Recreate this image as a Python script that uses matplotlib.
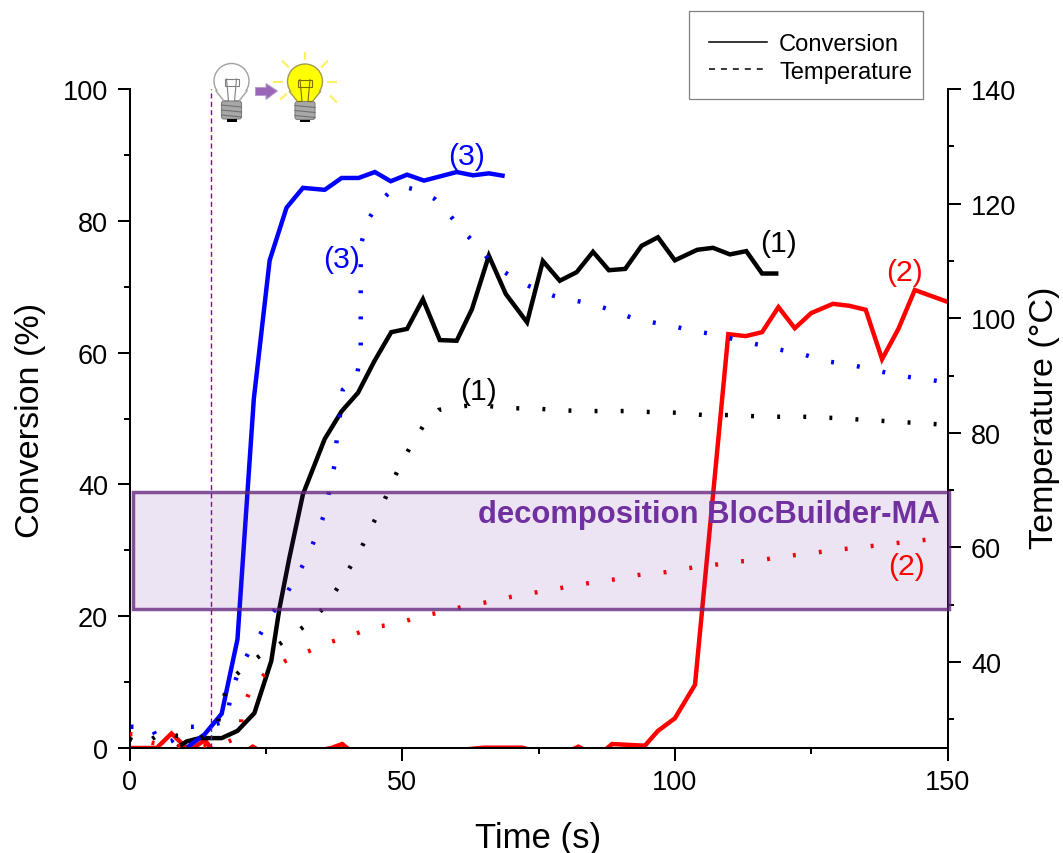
import matplotlib
matplotlib.use("Agg")
import matplotlib.pyplot as plt
from matplotlib.lines import Line2D
from matplotlib.patches import Rectangle, Circle, Polygon, FancyBboxPatch
from matplotlib.ticker import MultipleLocator

plt.rcParams['font.family'] = ['Liberation Sans', 'DejaVu Sans']
plt.rcParams['lines.scale_dashes'] = False

# Conversion (%) ---------------------------------------------------------
t_conv1 = [8.8,10.5,12.9,16.9,19.8,22.9,26.0,27.5,29.3,31.8,35.8,38.9,41.9,44.9,48.0,50.9,53.8,56.9,60.0,62.8,65.9,69.0,72.9,75.8,78.9,82.0,85.0,87.9,90.9,93.9,96.9,100.0,104.1,107.0,110.1,113.1,116.0,119.0]
conv1 = [0.1,1.0,1.5,1.5,2.6,5.3,13.2,21.2,28.8,38.5,46.9,51.1,53.9,58.7,63.1,63.6,68.1,61.9,61.8,66.6,74.7,68.9,64.6,73.9,70.9,72.2,75.3,72.5,72.7,76.2,77.5,74.0,75.6,75.9,74.9,75.4,72.0,72.0]

t_conv2 = [0,5.0,7.7,10.1,11.2,13.8,15.2,16.5,21.5,22.6,23.8,34.5,37.0,39.0,40.5,60.5,65.0,72.0,73.5,81.0,82.3,83.5,87.2,88.5,94.5,96.9,100.0,103.7,109.8,113.0,116.0,119.0,122.0,125.0,129.0,132.0,135.0,138.0,141.0,144.0,150.0]
conv2 = [0.0,0.0,2.2,0.3,-0.3,1.2,-0.3,-0.4,-0.4,0.2,-0.4,-0.4,0.0,0.6,-0.4,-0.3,0.05,0.05,-0.3,-0.3,0.2,-0.3,-0.3,0.6,0.35,2.6,4.5,9.6,62.8,62.5,63.1,66.9,63.7,66.0,67.4,67.1,66.5,59.0,63.6,69.5,67.7]

t_conv3 = [10.6,13.8,16.9,19.8,22.8,25.7,28.8,31.8,35.8,38.9,42.0,45.0,47.9,50.9,54.0,60.0,63.0,65.9,68.8]
conv3 = [0.1,2.1,5.2,16.5,53.0,74.0,82.0,85.0,84.7,86.5,86.5,87.4,86.0,87.0,86.1,87.4,86.9,87.2,86.8]

# Temperature (°C) -------------------------------------------------------
t_temp1 = [0,2.4,6.4,8.8,12.7,16.0,16.9,18.2,20.9,23.9,27.0,29.9,33.4,36.2,38.4,40.6,42.6,44.4,46.3,47.9,49.8,51.8,54.0,56.7,61.7,65.4,70.1,75.1,77.8,82.8,87.2,91.2,96.2,101.0,105.2,110.0,114.6,119.3,123.7,128.9,150.0]
temp1 = [26.6,25.5,28.0,27.1,26.6,28.3,32.7,36.5,39.0,41.1,42.8,44.7,47.2,50.1,53.3,56.8,60.1,63.7,67.2,70.9,74.6,78.1,81.4,84.0,84.7,84.7,84.3,84.2,84.0,83.8,83.8,83.8,83.6,83.5,83.1,83.1,82.9,82.8,82.8,82.6,81.4]

t_temp2 = [0,2.4,3.5,7.7,16.9,20.2,20.7,22.2,25.0,28.6,32.9,36.9,40.9,44.6,48.8,53.1,57.1,61.7,65.9,70.1,74.2,77.8,81.9,85.6,89.6,93.4,98.4,102.6,106.8,110.9,115.8,120.6,125.0,129.8,134.8,139.2,143.7,147.8,150.0]
temp2 = [27.4,27.4,26.0,25.3,25.5,27.1,31.6,35.3,38.1,40.2,41.9,43.5,44.7,46.1,46.6,47.9,48.7,49.8,50.5,51.4,52.1,52.7,53.4,54.0,54.5,55.2,55.7,56.4,56.9,57.5,57.8,58.5,59.0,59.6,60.1,60.6,61.1,61.5,61.8]

t_temp3 = [0.2,4.0,5.7,7.7,10.3,14.0,17.8,18.5,19.8,21.8,24.0,26.1,28.5,30.7,32.7,34.3,35.8,36.7,37.6,38.0,38.6,39.1,41.7,42.4,42.4,42.4,42.4,42.4,43.5,45.7,47.9,50.3,52.7,56.0,58.9,61.1,63.9,66.5,69.8,73.3,76.0,77.8,81.0,84.8,88.7,92.3,95.8,99.7,103.4,107.6,111.4,115.7,119.3,123.2,127.6,131.5,135.1,139.2,143.2,147.2,150.0]
temp3 = [28.7,28.7,25.5,26.2,28.7,28.7,29.7,33.9,37.9,41.6,44.9,48.4,51.5,55.0,58.5,62.2,66.0,70.2,74.4,78.9,83.1,87.5,89.9,94.1,98.6,103.4,108.1,112.6,116.8,120.1,122.2,122.9,122.4,120.8,117.8,115.2,112.6,109.5,107.4,105.6,104.6,103.9,103.2,102.5,101.3,100.0,99.3,98.6,97.8,97.1,96.2,95.3,94.5,93.8,92.5,92.0,91.3,90.4,89.7,89.2,88.7]

light_on_time = 15
band_t = [0.6, 150.2]
band_conv = [21.1, 38.85]
band_label = "decomposition BlocBuilder-MA"
legend_labels = ["Conversion", "Temperature"]
W, H = 1063, 854
PURPLE = "#7030A0"
DOT = (0, (2.1, 16.7))

fig = plt.figure(figsize=(W / 100, H / 100), dpi=100)
ax = fig.add_axes([129.5 / W, 1 - 749 / H, 818 / W, 659 / H])
tw = ax.twinx()

SOL = dict(lw=3.2, solid_joinstyle='miter', solid_capstyle='butt')
ax.plot(t_conv2, conv2, color='#FF0000', **SOL)
ax.plot(t_conv1, conv1, color='black', **SOL)
ax.plot(t_conv3, conv3, color='#0000FF', **SOL)
ax.plot([light_on_time, light_on_time], [0, 100], color='#7B00D0', lw=1.0,
        linestyle=(0, (3.6, 2.4)))

for tt, yy, c in [(t_temp1, temp1, 'black'), (t_temp2, temp2, '#FF0000'), (t_temp3, temp3, '#0000FF')]:
    tw.plot(tt, yy, color=c, lw=3.2, linestyle=DOT, dash_capstyle='butt')

ax.set_xlim(0, 150)
ax.set_ylim(0, 100)
tw.set_ylim(25, 140)

ax.xaxis.set_major_locator(MultipleLocator(50))
ax.xaxis.set_minor_locator(MultipleLocator(25))
ax.yaxis.set_major_locator(MultipleLocator(20))
ax.yaxis.set_minor_locator(MultipleLocator(10))
tw.yaxis.set_major_locator(MultipleLocator(20))
tw.yaxis.set_minor_locator(MultipleLocator(10))

for a in (ax, tw):
    a.spines['top'].set_visible(False)
    for s in a.spines.values():
        s.set_linewidth(1.45)
    a.tick_params(which='major', length=9, width=1.45, labelsize=19.5)
    a.tick_params(which='minor', length=4.3, width=1.45)
    a.set_facecolor('none')
ax.tick_params(axis='y', which='major', pad=6.5)
ax.tick_params(axis='x', which='major', pad=6)
tw.tick_params(axis='y', which='major', pad=8)
tw.spines['left'].set_visible(False)
tw.spines['bottom'].set_visible(False)
ax.spines['right'].set_visible(False)

xl = ax.set_xlabel("Time (s)", fontsize=25, va='center', ha='center')
yl = ax.set_ylabel("Conversion (%)", fontsize=24.6, va='center', ha='center')
rl = tw.set_ylabel("Temperature (°C)", fontsize=24.6, va='center', ha='center')
ax.xaxis.set_label_coords(0.499, -0.136)
ax.yaxis.set_label_coords(-0.121, 0.499)
tw.yaxis.set_label_coords(1.119, 0.502)

# decomposition band drawn over the curves
band = Rectangle((band_t[0], band_conv[0]), band_t[1] - band_t[0], band_conv[1] - band_conv[0],
                 transform=ax.transData, facecolor=(0.44, 0.19, 0.63, 0.13),
                 edgecolor=(0.40, 0.16, 0.50, 0.8), lw=2.5, clip_on=False, zorder=6)
tw.add_patch(band)

# Overlay in pixel coordinates for annotations and decorations
ov = fig.add_axes([0, 0, 1, 1], facecolor='none')
ov.set_xlim(0, W)
ov.set_ylim(H, 0)
ov.axis('off')

ov.text(708.5, 515, band_label, color=PURPLE, fontsize=22.3, fontweight='bold',
        ha='center', va='center')
for (x, y, s, c) in [(467, 157, "(3)", '#0000FF'), (342, 260, "(3)", '#0000FF'),
                     (478, 392, "(1)", 'black'), (778, 244, "(1)", 'black'),
                     (905, 273, "(2)", '#FF0000'), (906, 567, "(2)", '#FF0000')]:
    ov.text(x, y, s, color=c, fontsize=21.8, ha='center', va='center')

# legend
ov.add_patch(Rectangle((689, 12), 234, 87.5, facecolor='white', edgecolor='#808080', lw=0.9))
handles = [Line2D([], [], color='black', lw=1.1),
           Line2D([], [], color='black', lw=1.1, linestyle=(0, (4.3, 4.3)))]
ov.legend(handles, legend_labels, loc='upper left', bbox_to_anchor=(709 / W, 1 - 34 / H),
          bbox_transform=fig.transFigure, frameon=False, fontsize=17.1, handlelength=2.45,
          handletextpad=0.5, labelspacing=0.24, borderpad=0, borderaxespad=0)


def bulb(cx, cy, fill, edge):
    """Small light-bulb icon centred on the glass."""
    ov.add_patch(Circle((cx, cy), 17.5, facecolor=fill, edgecolor=edge, lw=1.0))
    ov.add_patch(Polygon([(cx - 7, cy + 22), (cx - 15, cy + 10), (cx + 15, cy + 10), (cx + 7, cy + 22)],
                         facecolor=fill, edgecolor='none'))
    ov.plot([cx - 15.5, cx - 7.5], [cy + 10, cy + 20], color=edge, lw=1.0)
    ov.plot([cx + 15.5, cx + 7.5], [cy + 10, cy + 20], color=edge, lw=1.0)
    fil = '#808080' if fill == 'white' else '#807000'
    ov.plot([cx - 5, cx - 3, cx - 7], [cy - 2, cy + 20, cy + 20], color=fil, lw=0.8)
    ov.plot([cx + 5, cx + 3, cx + 7], [cy - 2, cy + 20, cy + 20], color=fil, lw=0.8)
    ov.add_patch(Rectangle((cx - 7, cy - 2), 14, 7, facecolor='none', edgecolor=fil, lw=0.8))
    ov.add_patch(FancyBboxPatch((cx - 10, cy + 20), 20, 18, boxstyle='round,pad=0,rounding_size=2.5',
                                facecolor='#A8A8A8', edgecolor='#808080', lw=0.8))
    for d in (5, 10, 15):
        ov.plot([cx - 10, cx + 10], [cy + 20 + d - 1, cy + 20 + d + 1], color='#707070', lw=0.8)
    ov.add_patch(Rectangle((cx - 5, cy + 38), 10, 2.5, facecolor='black', edgecolor='none'))


bulb(231.5, 82, 'white', '#A0A0A0')
bulb(305, 82.5, '#FFFF00', '#A09A50')
cx, cy = 305, 82.5
for x0, y0, x1, y1 in [(0, -30, 0, -22), (-23, -21, -16, -14), (23, -21, 16, -14),
                       (-32, 0, -22, 0), (32, 0, 22, 0), (-25, 18, -18, 12), (25, 14, 32, 21)]:
    ov.plot([cx + x0, cx + x1], [cy + y0, cy + y1], color='#FFF060', lw=1.5, solid_capstyle='butt')
ov.add_patch(Polygon([(255.5, 88.5), (266, 88.5), (266, 84.5), (277.5, 92), (266, 100.5), (266, 96.5), (255.5, 96.5)],
                     facecolor='#9A66B8', edgecolor='#B79BCB', lw=0.7))

fig.savefig("out.png", dpi=100)
